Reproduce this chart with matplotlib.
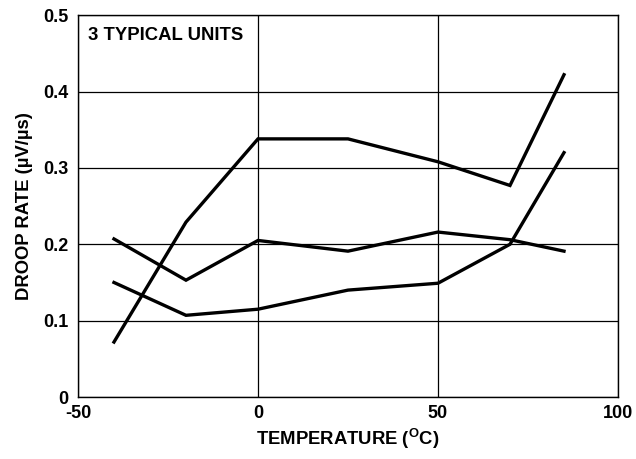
import matplotlib
matplotlib.use("Agg")
import matplotlib.pyplot as plt

plt.rcParams["font.family"] = ["Liberation Sans", "DejaVu Sans"]
plt.rcParams["font.weight"] = "bold"
plt.rcParams["mathtext.fontset"] = "custom"
plt.rcParams["mathtext.rm"] = "Liberation Sans:bold"
plt.rcParams["mathtext.bf"] = "Liberation Sans:bold"

# temperature points (deg C)
temp = [-40, -20, 0, 25, 50, 70, 85]

# droop rate for 3 units (uV/us)
unit_a = [0.072, 0.229, 0.338, 0.338, 0.308, 0.277, 0.422]
unit_b = [0.207, 0.153, 0.205, 0.191, 0.216, 0.206, 0.191]
unit_c = [0.150, 0.107, 0.115, 0.140, 0.149, 0.200, 0.320]

xticks = [-50, 0, 50, 100]
yticks = [0, 0.1, 0.2, 0.3, 0.4, 0.5]
ytick_labels = ["0", "0.1", "0.2", "0.3", "0.4", "0.5"]

fig = plt.figure(figsize=(6.36, 4.59), dpi=100)
ax = fig.add_axes([0.1226, 0.135, 0.8491, 0.832])

for unit in [unit_a, unit_b, unit_c]:
    ax.plot(temp, unit, color="black", linewidth=2.4, solid_joinstyle="miter")

ax.set_xlim(-50, 100)
ax.set_ylim(0, 0.5)
ax.set_xticks(xticks)
ax.set_xticklabels([str(t) for t in xticks])
ax.set_yticks(yticks)
ax.set_yticklabels(ytick_labels)
ax.tick_params(length=0, labelsize=13)
ax.tick_params(axis="x", pad=6)
ax.tick_params(axis="y", pad=7)
for lab in ax.get_xticklabels() + ax.get_yticklabels():
    lab.set_fontweight("bold")

ax.grid(True, color="black", linewidth=0.9)
for s in ax.spines.values():
    s.set_linewidth(1.0)

ax.set_xlabel(r"TEMPERATURE ($^{\mathbf{O}}$C)", fontsize=13.3, fontweight="bold", labelpad=3)
ax.set_ylabel("DROOP RATE (µV/µs)", fontsize=13.3, fontweight="bold", labelpad=7)

ax.text(-47.2, 0.474, "3 TYPICAL UNITS", fontsize=13.3, fontweight="bold", va="center", ha="left")

fig.savefig("out.png", dpi=100)
